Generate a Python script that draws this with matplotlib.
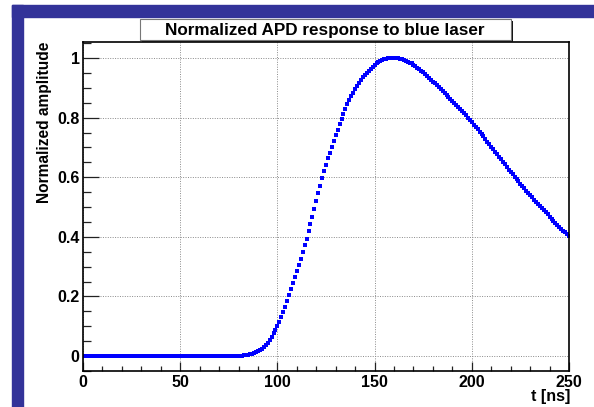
import matplotlib
matplotlib.use("Agg")
import matplotlib.pyplot as plt
from matplotlib.patches import Rectangle
from matplotlib.ticker import MultipleLocator
import numpy as np

# ---- data (t in ns, normalized amplitude) ----
t_ns = list(range(0, 251))
amp_zero = [0.0] * 80  # t = 0 .. 79
amp_rise = [0.000, 0.001, 0.001, 0.002, 0.003, 0.004, 0.006, 0.008, 0.010, 0.013,  # 80-89
            0.016, 0.020, 0.025, 0.031, 0.038, 0.045, 0.055, 0.065, 0.076, 0.088,  # 90-99
            0.100, 0.115, 0.131, 0.148, 0.166, 0.185, 0.204, 0.224, 0.244, 0.264,  # 100-109
            0.285, 0.305, 0.326, 0.348, 0.371, 0.394, 0.418, 0.443, 0.468, 0.494,  # 110-119
            0.520, 0.546, 0.572, 0.597, 0.620, 0.642, 0.663, 0.683, 0.703, 0.722,  # 120-129
            0.741, 0.760, 0.779, 0.797, 0.814, 0.830, 0.845, 0.859, 0.872, 0.884,  # 130-139
            0.895, 0.906, 0.916, 0.926, 0.935, 0.943, 0.951, 0.958, 0.965, 0.971,  # 140-149
            0.977, 0.982, 0.987, 0.991, 0.994, 0.996, 0.998, 0.999, 1.000, 1.000]  # 150-159
amp_fall = [1.000, 1.000, 0.999, 0.998, 0.996, 0.994, 0.991, 0.988, 0.985, 0.982,  # 160-169
            0.978, 0.973, 0.968, 0.963, 0.958, 0.952, 0.946, 0.940, 0.934, 0.928,  # 170-179
            0.921, 0.915, 0.908, 0.902, 0.895, 0.889, 0.882, 0.876, 0.869, 0.863,  # 180-189
            0.856, 0.849, 0.843, 0.836, 0.829, 0.822, 0.815, 0.808, 0.800, 0.793,  # 190-199
            0.785, 0.777, 0.769, 0.761, 0.753, 0.745, 0.737, 0.728, 0.720, 0.711,  # 200-209
            0.703, 0.694, 0.686, 0.677, 0.669, 0.660, 0.652, 0.643, 0.635, 0.626,  # 210-219
            0.618, 0.610, 0.602, 0.594, 0.586, 0.578, 0.570, 0.563, 0.555, 0.548,  # 220-229
            0.540, 0.533, 0.525, 0.518, 0.510, 0.503, 0.496, 0.489, 0.482, 0.475,  # 230-239
            0.468, 0.461, 0.454, 0.448, 0.441, 0.434, 0.428, 0.421, 0.415, 0.408,  # 240-249
            0.402]                                                                 # 250
amplitude = amp_zero + amp_rise + amp_fall

title_text = "Normalized APD response to blue laser"
xlabel_text = "t [ns]"
ylabel_text = "Normalized amplitude"

W, H = 594, 407
dpi = 100
plt.rcParams['font.family'] = ['Liberation Sans', 'DejaVu Sans']

fig = plt.figure(figsize=(W / dpi, H / dpi), dpi=dpi)
fig.patch.set_facecolor('white')

def fx(px):
    return px / W

def fy(py):
    return 1 - py / H

# blue frame (top band + left band)
frame_color = '#333399'
fig.patches.append(Rectangle((fx(12), fy(17)), fx(W) - fx(12), fy(5) - fy(17),
                             transform=fig.transFigure, color=frame_color, zorder=0))
fig.patches.append(Rectangle((fx(12), 0), fx(23) - fx(12), fy(5),
                             transform=fig.transFigure, color=frame_color, zorder=0))

# axes
left, right, top, bottom = 83, 569, 42, 371
ax = fig.add_axes([fx(left), fy(bottom), fx(right) - fx(left), fy(top) - fy(bottom)])
ax.plot(t_ns, amplitude, linestyle='none', marker='s', markersize=2.2,
        color='#0000ff', markeredgewidth=0)

ax.set_xlim(0, 250)
ax.set_ylim(-0.0503, 1.054)
ax.xaxis.set_major_locator(MultipleLocator(50))
ax.xaxis.set_minor_locator(MultipleLocator(10))
ax.yaxis.set_major_locator(MultipleLocator(0.2))
ax.yaxis.set_minor_locator(MultipleLocator(0.05))
ax.set_yticks([0, 0.2, 0.4, 0.6, 0.8, 1.0])
ax.set_yticklabels(['0', '0.2', '0.4', '0.6', '0.8', '1'])

ax.tick_params(axis='both', which='both', direction='in', colors='#222222',
               labelcolor='black', labelsize=11.5)
ax.tick_params(axis='x', which='major', length=6.5, width=0.9, pad=3)
ax.tick_params(axis='x', which='minor', length=3.4, width=0.9)
ax.tick_params(axis='y', which='major', length=11.3, width=0.9, pad=2.5)
ax.tick_params(axis='y', which='minor', length=5.8, width=0.9)
for lbl in ax.get_xticklabels() + ax.get_yticklabels():
    lbl.set_fontweight('bold')

ax.grid(True, which='major', color='#8a8a8a', linestyle=(0, (1, 1.5)), linewidth=0.7)
for s in ax.spines.values():
    s.set_linewidth(1.2)
    s.set_color('black')

# axis labels (ROOT style: aligned to the end of the axis)
fig.text(fx(570), fy(397), xlabel_text, ha='right', va='center', fontsize=11.5,
         fontweight='bold')
fig.text(fx(45), fy(42), ylabel_text, ha='center', va='top', rotation=90,
         fontsize=11.2, fontweight='bold')

# title box with shadow
bx0, by0, bx1, by1 = 140, 19, 511, 40
fig.patches.append(Rectangle((fx(bx0 + 2), fy(by1 + 2)), fx(bx1 - bx0), fy(by0) - fy(by1),
                             transform=fig.transFigure, facecolor='#111111',
                             edgecolor='none', zorder=3))
fig.patches.append(Rectangle((fx(bx0), fy(by1)), fx(bx1 - bx0), fy(by0) - fy(by1),
                             transform=fig.transFigure, facecolor='white',
                             edgecolor='#777777', linewidth=0.8, zorder=4))
fig.text(fx(325), fy(30), title_text, ha='center',
         va='center', fontsize=12.3, fontweight='bold', zorder=5)

fig.savefig('out.png', dpi=dpi)
